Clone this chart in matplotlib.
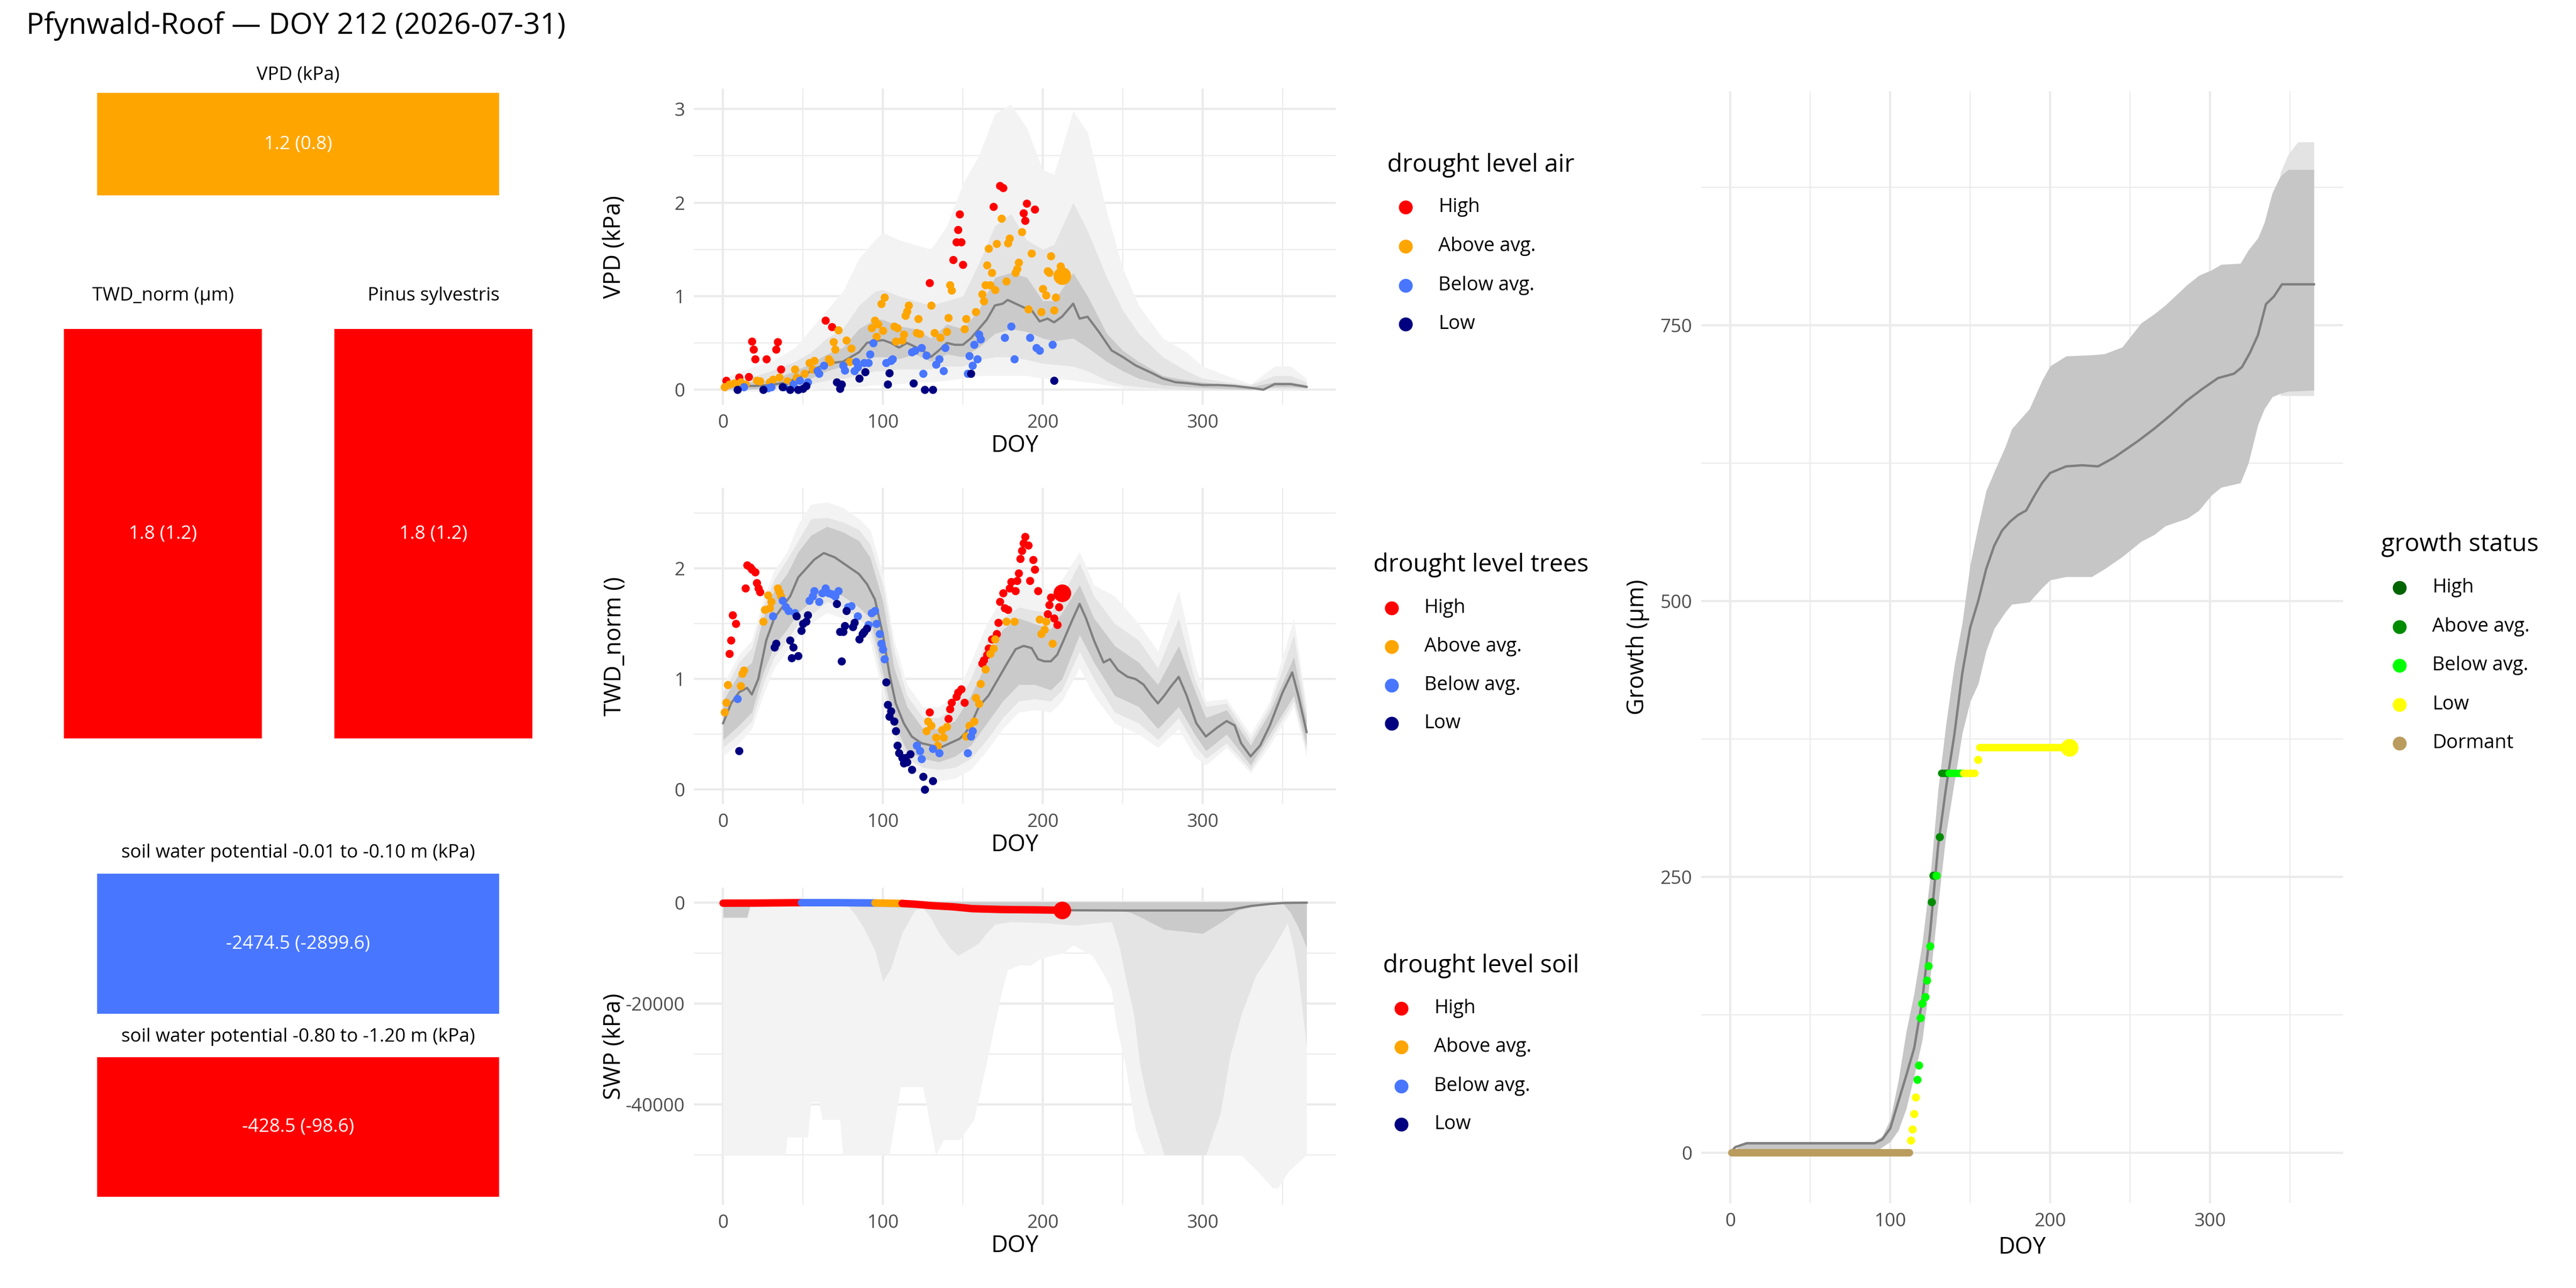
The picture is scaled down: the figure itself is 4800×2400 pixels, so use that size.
import numpy as np
import matplotlib.pyplot as plt
from matplotlib.lines import Line2D
from matplotlib.patches import Rectangle

plt.rcParams['font.family'] = ['Open Sans', 'DejaVu Sans']
plt.rcParams['axes.unicode_minus'] = False

W, H = 4800, 2400

# ---------------- data ----------------
title = 'Pfynwald-Roof \u2014 DOY 212 (2026-07-31)'
today = 212

level_names = ['High', 'Above avg.', 'Below avg.', 'Low']
level_colors = ['#FF0000', '#FFA500', '#4876FF', '#000080']
growth_names = ['High', 'Above avg.', 'Below avg.', 'Low', 'Dormant']
growth_colors = ['#006400', '#008B00', '#00FF00', '#FFFF00', '#BA9C5E']

# summary tiles (left column)
tile_titles = ['VPD (kPa)', 'TWD_norm (\u00b5m)', 'Pinus sylvestris',
               'soil water potential -0.01 to -0.10 m (kPa)',
               'soil water potential -0.80 to -1.20 m (kPa)']
tile_now = [1.2, 1.8, 1.8, -2474.5, -428.5]
tile_ref = [0.8, 1.2, 1.2, -2899.6, -98.6]
tile_level = ['Above avg.', 'High', 'High', 'Below avg.', 'High']

# VPD climatology (median + 3 quantile bands)
vpd_med_doy = [0, 10, 20, 30, 40, 50, 57, 65, 75, 85, 90, 95, 100, 105, 110, 115, 120, 125, 130, 135,
               140, 145, 150, 155, 160, 165, 170, 175, 178, 183, 188, 193, 198, 203, 207, 212, 219, 223, 228, 235,
               243, 250, 258, 268, 275, 283, 290, 300, 310, 320, 330, 338, 345, 355, 365]
vpd_med_val = [0.03, 0.04, 0.04, 0.05, 0.08, 0.15, 0.22, 0.28, 0.30, 0.40, 0.50, 0.52, 0.53, 0.50, 0.45, 0.50, 0.46, 0.42, 0.35, 0.42,
               0.50, 0.48, 0.48, 0.55, 0.65, 0.75, 0.90, 0.92, 0.96, 0.92, 0.88, 0.85, 0.73, 0.76, 0.72, 0.78, 0.92, 0.76, 0.78, 0.62,
               0.42, 0.35, 0.26, 0.18, 0.12, 0.08, 0.07, 0.05, 0.05, 0.04, 0.02, 0.00, 0.06, 0.06, 0.03]
vpd_band_doy = [0, 15, 30, 45, 55, 65, 75, 85, 95, 100, 110, 120, 130, 140, 150, 160, 170, 180, 190, 200,
                207, 219, 228, 240, 250, 260, 275, 290, 300, 315, 330, 345, 355, 365]
vpd_in_lo = [0.00, 0.00, 0.02, 0.08, 0.12, 0.20, 0.25, 0.30, 0.35, 0.35, 0.33, 0.38, 0.30, 0.38, 0.35, 0.45, 0.60, 0.65, 0.62, 0.55,
             0.52, 0.55, 0.45, 0.30, 0.20, 0.12, 0.05, 0.03, 0.02, 0.01, 0.00, 0.03, 0.03, 0.02]
vpd_in_hi = [0.06, 0.08, 0.10, 0.20, 0.28, 0.38, 0.45, 0.65, 0.75, 0.75, 0.68, 0.65, 0.55, 0.70, 0.65, 0.85, 1.20, 1.25, 1.20, 0.95,
             0.95, 1.25, 1.00, 0.60, 0.42, 0.30, 0.15, 0.10, 0.08, 0.05, 0.03, 0.08, 0.08, 0.05]
vpd_mid_lo = [0.00, 0.00, 0.00, 0.03, 0.06, 0.10, 0.12, 0.15, 0.20, 0.20, 0.22, 0.22, 0.22, 0.25, 0.25, 0.32, 0.35, 0.35, 0.32, 0.28,
              0.27, 0.25, 0.20, 0.10, 0.05, 0.03, 0.01, 0.00, 0.00, 0.00, 0.00, 0.01, 0.01, 0.00]
vpd_mid_hi = [0.08, 0.12, 0.20, 0.30, 0.40, 0.55, 0.65, 0.90, 1.05, 1.07, 1.00, 0.95, 0.90, 0.95, 1.00, 1.35, 1.75, 1.88, 1.60, 1.50,
              1.55, 2.00, 1.70, 1.20, 0.85, 0.60, 0.35, 0.20, 0.12, 0.08, 0.05, 0.15, 0.15, 0.08]
vpd_out_lo = [-0.02, -0.02, -0.02, 0.00, 0.00, 0.02, 0.02, 0.03, 0.05, 0.05, 0.06, 0.08, 0.08, 0.10, 0.12, 0.15, 0.15, 0.15, 0.15, 0.12,
              0.12, 0.10, 0.08, 0.05, 0.02, 0.01, 0.00, 0.00, 0.00, 0.00, 0.00, 0.00, 0.00, 0.00]
vpd_out_hi = [0.12, 0.22, 0.30, 0.45, 0.65, 0.85, 1.05, 1.40, 1.60, 1.68, 1.60, 1.55, 1.50, 1.75, 2.20, 2.50, 2.95, 3.05, 2.80, 2.35,
              2.30, 2.98, 2.75, 1.90, 1.30, 0.90, 0.55, 0.40, 0.25, 0.15, 0.06, 0.25, 0.25, 0.12]

# VPD observations this year, by drought level
vpd_high_doy = [2, 10, 16, 18, 19, 20, 27, 33, 34, 36, 64, 68, 129, 144, 146, 147, 148, 149, 150, 169, 173, 175, 188, 189, 190, 195]
vpd_high_val = [0.10, 0.13, 0.14, 0.52, 0.43, 0.33, 0.33, 0.43, 0.51, 0.22, 0.74, 0.67, 1.14, 1.39, 1.58, 1.71, 1.88, 1.58, 1.34,
                1.96, 2.18, 2.16, 1.89, 1.81, 1.99, 1.93]
vpd_above_doy = [1, 4, 7, 11, 14, 21, 23, 29, 31, 35, 40, 45, 46, 51, 54, 56, 57, 66, 67, 69,
                 70, 72, 77, 79, 80, 93, 95, 96, 97, 99, 100, 101, 107, 108, 109, 112, 113, 114, 115, 116,
                 121, 122, 123, 130, 132, 136, 140, 141, 142, 143, 151, 152, 158, 162, 163, 164, 165, 166, 167, 168,
                 170, 171, 174, 177, 178, 179, 183, 184, 185, 187, 191, 193, 199, 200, 202, 203, 204, 205, 207, 208, 211]
vpd_above_val = [0.03, 0.06, 0.07, 0.08, 0.06, 0.10, 0.09, 0.08, 0.11, 0.13, 0.09, 0.22, 0.13, 0.17, 0.29, 0.22, 0.31, 0.33, 0.30, 0.51,
                 0.43, 0.64, 0.53, 0.30, 0.44, 0.66, 0.74, 0.57, 0.70, 0.92, 0.63, 0.99, 0.68, 0.52, 0.66, 0.53, 0.59, 0.79, 0.84, 0.90,
                 0.61, 0.76, 0.60, 0.90, 0.61, 0.56, 0.62, 0.77, 1.12, 1.06, 0.65, 0.76, 0.83, 1.02, 0.95, 1.12, 1.33, 1.51, 1.12, 1.25,
                 1.07, 1.56, 1.83, 1.16, 1.57, 1.62, 1.25, 1.29, 1.36, 1.69, 0.86, 1.46, 0.83, 1.08, 1.01, 1.27, 1.25, 1.43, 0.85, 0.99, 1.32]
vpd_below_doy = [13, 28, 30, 38, 44, 48, 53, 59, 60, 63, 75, 76, 82, 83, 84, 88, 91, 92, 94, 102,
                 105, 106, 118, 120, 124, 125, 127, 133, 135, 138, 139, 153, 154, 156, 157, 159, 160, 161, 176, 180,
                 182, 192, 196, 198, 206]
vpd_below_val = [0.03, 0.02, 0.03, 0.03, 0.06, 0.10, 0.08, 0.20, 0.17, 0.26, 0.26, 0.21, 0.20, 0.30, 0.24, 0.29, 0.29, 0.38, 0.50, 0.29,
                 0.31, 0.33, 0.40, 0.42, 0.45, 0.17, 0.37, 0.27, 0.33, 0.20, 0.45, 0.17, 0.36, 0.26, 0.48, 0.33, 0.59, 0.54, 0.56, 0.68,
                 0.33, 0.56, 0.45, 0.42, 0.48]
vpd_low_doy = [9, 25, 37, 42, 47, 50, 52, 71, 73, 74, 85, 89, 103, 104, 119, 126, 131, 155, 207]
vpd_low_val = [0.00, 0.00, 0.03, 0.00, 0.00, 0.01, 0.04, 0.08, 0.01, 0.06, 0.12, 0.19, 0.06, 0.18, 0.07, 0.00, 0.00, 0.17, 0.10]
vpd_now = 1.22

# TWD_norm climatology
twd_med_doy = [0, 5, 10, 15, 18, 22, 27, 32, 37, 42, 47, 52, 57, 63, 70, 75, 80, 85, 90, 95,
               100, 104, 108, 113, 118, 124, 130, 136, 142, 148, 152, 156, 160, 166, 172, 178, 183, 188, 193, 197,
               201, 205, 209, 213, 218, 223, 227, 232, 238, 242, 247, 253, 258, 263, 268, 272, 276, 280, 285, 290,
               296, 302, 309, 315, 320, 324, 330, 336, 342, 350, 356, 360, 365]
twd_med_val = [0.60, 0.78, 0.88, 0.92, 0.86, 1.00, 1.35, 1.55, 1.65, 1.75, 1.92, 2.00, 2.08, 2.14, 2.10, 2.05, 2.00, 1.95, 1.86, 1.72,
               1.40, 1.05, 0.78, 0.60, 0.48, 0.42, 0.40, 0.38, 0.42, 0.46, 0.52, 0.62, 0.75, 0.85, 1.00, 1.15, 1.27, 1.30, 1.28, 1.18,
               1.16, 1.16, 1.22, 1.35, 1.52, 1.68, 1.55, 1.35, 1.15, 1.18, 1.08, 1.02, 1.00, 0.95, 0.85, 0.78, 0.85, 0.93, 1.02, 0.85,
               0.60, 0.48, 0.56, 0.62, 0.58, 0.42, 0.30, 0.40, 0.58, 0.88, 1.06, 0.84, 0.52]
twd_band_doy = [0, 10, 18, 25, 32, 40, 47, 55, 65, 75, 85, 92, 100, 107, 115, 125, 135, 145, 155, 165,
                175, 185, 195, 205, 212, 223, 232, 245, 260, 272, 285, 295, 302, 315, 330, 342, 357, 365]
twd_in_lo = [0.45, 0.58, 0.70, 1.05, 1.30, 1.45, 1.60, 1.70, 1.80, 1.75, 1.65, 1.55, 1.05, 0.60, 0.35, 0.28, 0.25, 0.30, 0.40, 0.60,
             0.80, 0.95, 0.95, 0.90, 1.00, 1.40, 1.15, 0.85, 0.75, 0.55, 0.75, 0.50, 0.35, 0.50, 0.22, 0.50, 0.85, 0.40]
twd_in_hi = [0.80, 1.05, 1.15, 1.55, 1.80, 1.95, 2.15, 2.30, 2.38, 2.33, 2.25, 2.10, 1.70, 1.10, 0.75, 0.55, 0.55, 0.62, 0.85, 1.15,
             1.45, 1.55, 1.50, 1.45, 1.60, 1.85, 1.55, 1.30, 1.15, 0.95, 1.30, 0.90, 0.65, 0.72, 0.40, 0.70, 1.20, 0.62]
twd_mid_lo = [0.38, 0.50, 0.62, 0.95, 1.20, 1.35, 1.50, 1.58, 1.70, 1.65, 1.55, 1.45, 0.95, 0.52, 0.28, 0.20, 0.18, 0.20, 0.28, 0.45,
              0.65, 0.80, 0.82, 0.80, 0.90, 1.25, 1.00, 0.70, 0.60, 0.45, 0.65, 0.40, 0.28, 0.42, 0.18, 0.45, 0.80, 0.35]
twd_mid_hi = [0.88, 1.15, 1.28, 1.65, 1.90, 2.08, 2.25, 2.45, 2.46, 2.42, 2.35, 2.22, 1.85, 1.25, 0.85, 0.65, 0.65, 0.75, 1.00, 1.35,
              1.55, 1.65, 1.62, 1.60, 1.75, 2.05, 1.75, 1.50, 1.35, 1.10, 1.55, 1.00, 0.75, 0.78, 0.45, 0.75, 1.40, 0.68]
twd_out_lo = [0.30, 0.42, 0.55, 0.85, 1.10, 1.25, 1.40, 1.50, 1.60, 1.55, 1.45, 1.35, 0.85, 0.45, 0.22, 0.12, 0.08, 0.10, 0.18, 0.35,
              0.55, 0.70, 0.72, 0.70, 0.80, 1.10, 0.85, 0.60, 0.50, 0.38, 0.55, 0.30, 0.22, 0.38, 0.15, 0.40, 0.75, 0.30]
twd_out_hi = [0.95, 1.22, 1.35, 1.72, 1.98, 2.15, 2.40, 2.58, 2.60, 2.55, 2.45, 2.35, 1.95, 1.35, 0.95, 0.75, 0.75, 0.85, 1.15, 1.50,
              1.75, 1.90, 1.85, 1.80, 1.90, 2.15, 1.85, 1.75, 1.50, 1.25, 1.80, 1.15, 0.80, 0.82, 0.50, 0.80, 1.55, 0.75]

# TWD_norm observations this year
twd_high_doy = [4, 5, 6, 8, 14, 15, 17, 18, 20, 21, 22, 23, 129, 141, 142, 143, 146, 147, 149, 151,
                162, 163, 165, 166, 168, 171, 172, 173, 175, 176, 178, 179, 180, 183, 184, 185, 186, 187, 188, 189,
                191, 192, 194, 195, 197, 203, 204, 205, 207, 209, 210]
twd_high_val = [1.23, 1.35, 1.58, 1.50, 1.82, 2.03, 2.01, 1.99, 1.97, 1.87, 1.82, 1.79, 0.70, 0.64, 0.73, 0.79, 0.84, 0.88, 0.91, 0.79,
                1.14, 1.17, 1.22, 1.28, 1.36, 1.41, 1.51, 1.70, 1.78, 1.64, 1.63, 1.82, 1.88, 1.80, 1.89, 1.96, 2.09, 2.16, 2.23, 2.29,
                2.21, 1.89, 2.08, 1.99, 1.80, 1.59, 1.67, 1.74, 1.55, 1.49, 1.65]
twd_above_doy = [1, 2, 3, 11, 12, 13, 25, 26, 28, 29, 30, 34, 35, 36, 127, 128, 130, 133, 134, 137,
                 138, 140, 152, 154, 157, 158, 160, 161, 164, 167, 169, 170, 177, 182, 198, 199, 201, 202, 206]
twd_above_val = [0.70, 0.79, 0.95, 0.94, 1.05, 1.08, 1.52, 1.63, 1.76, 1.64, 1.70, 1.82, 1.79, 1.75, 0.53, 0.62, 0.58, 0.47, 0.40, 0.54,
                 0.47, 0.57, 0.48, 0.58, 0.62, 0.83, 0.78, 0.96, 1.09, 1.23, 1.28, 1.36, 1.52, 1.52, 1.54, 1.41, 1.45, 1.52, 1.32]
twd_below_doy = [9, 31, 37, 39, 41, 45, 54, 56, 57, 60, 62, 64, 66, 68, 70, 72, 78, 80, 84, 91,
                 93, 95, 96, 98, 99, 100, 101, 121, 123, 124, 131, 135, 153, 155, 156]
twd_below_val = [0.82, 1.57, 1.71, 1.65, 1.62, 1.60, 1.71, 1.75, 1.80, 1.70, 1.78, 1.82, 1.78, 1.77, 1.75, 1.80, 1.65, 1.66, 1.57, 1.49,
                 1.60, 1.62, 1.50, 1.41, 1.32, 1.27, 1.18, 0.40, 0.35, 0.28, 0.37, 0.33, 0.33, 0.48, 0.53]
twd_low_doy = [10, 32, 33, 42, 43, 44, 46, 47, 49, 50, 52, 53, 71, 73, 74, 75, 76, 77, 81, 82,
               85, 87, 88, 90, 102, 103, 104, 105, 107, 108, 109, 110, 112, 113, 114, 115, 117, 118, 125, 126, 131]
twd_low_val = [0.35, 1.29, 1.32, 1.35, 1.19, 1.29, 1.57, 1.21, 1.44, 1.50, 1.52, 1.58, 1.68, 1.43, 1.16, 1.43, 1.48, 1.62, 1.47, 1.51,
               1.36, 1.41, 1.43, 1.46, 0.97, 0.77, 0.66, 0.71, 0.62, 0.53, 0.40, 0.33, 0.29, 0.24, 0.29, 0.25, 0.32, 0.18, 0.12, 0.00, 0.08]
twd_now = 1.78

# soil water potential climatology
swp_med_doy = [0, 50, 100, 130, 160, 200, 212, 250, 312, 318, 330, 342, 351, 365]
swp_med_val = [-100, 0, -100, -500, -1200, -1450, -1500, -1550, -1550, -1350, -670, -250, -50, 0]
swp_out_doy = [0, 39, 40, 53, 55, 60, 62, 73, 75, 104, 111, 125, 133, 138, 148, 157, 166, 174, 178, 186,
               192, 198, 205, 213, 219, 231, 237, 243, 246, 252, 258, 264, 324, 336, 344, 347, 354, 365]
swp_out_lo = [-50000, -50000, -46500, -46500, -39500, -39500, -43000, -43000, -50000, -50000, -36500, -36500, -50000, -47000,
              -47000, -43000, -30000, -18200, -13300, -12300, -12500, -11200, -10500, -10000, -8400, -10500, -13600, -17200,
              -24400, -32600, -45000, -50000, -50000, -53800, -56600, -56600, -53200, -50000]
swp_out_top = 450
swp_mid_doy = [0, 15, 17, 30, 78, 83, 88, 95, 100, 105, 112, 120, 125, 130, 135, 142, 147, 155, 160, 165,
               170, 180, 200, 220, 235, 243, 248, 252, 257, 261, 266, 276, 302, 311, 317, 324, 333, 341, 350, 353,
               357, 360, 365]
swp_mid_lo = [-3000, -3000, -800, -500, -500, -2500, -5000, -9500, -15600, -13000, -6000, -1500, -1000, -3000, -6000, -9000,
              -10500, -9000, -8000, -6000, -4300, -3800, -4000, -4500, -4000, -3800, -8900, -15100, -22300, -32600, -39800,
              -50000, -50000, -41900, -30600, -22300, -14600, -10700, -5800, -4000, -9000, -15000, -28500]
swp_mid_top = 300
swp_in_doy = [0, 15, 17, 212, 250, 255, 262, 276, 300, 312, 322, 335, 350, 355, 360, 365]
swp_in_lo = [-2900, -2900, -300, -1600, -1650, -1960, -3000, -5300, -6100, -3800, -1500, -500, -100, -2000, -5000, -8900]
swp_in_top = 150

# soil water potential this year, coloured by drought level
swp_obs_doy = [0, 20, 49, 70, 95, 112, 120, 130, 144, 156, 174, 200, 212]
swp_obs_val = [-100, -80, 0, 0, -50, -150, -300, -570, -825, -1190, -1350, -1440, -1500]
swp_seg_start = [0, 49, 95, 112]
swp_seg_end = [49, 95, 112, 212]
swp_seg_level = ['High', 'Below avg.', 'Above avg.', 'High']
swp_now = -1500

# growth climatology
gro_band_doy = [0, 10, 90, 95, 100, 105, 110, 115, 120, 125, 130, 135, 140, 145, 150, 155, 160, 165, 172, 176,
                187, 195, 200, 210, 226, 234, 245, 257, 265, 272, 286, 293, 301, 307, 319, 324, 330, 334, 339, 344,
                349, 365]
gro_in_hi = [0, 10, 10, 15, 30, 65, 110, 145, 190, 250, 330, 390, 441, 480, 533, 568, 600, 617, 640, 656,
             674, 700, 713, 722, 723, 724, 730, 752, 760, 768, 787, 795, 800, 805, 806, 818, 829, 843, 870, 885,
             891, 891]
gro_in_lo = [0, 0, 0, 5, 10, 20, 40, 70, 102, 159, 226, 290, 335, 380, 409, 425, 455, 475, 490, 497,
             499, 512, 519, 522, 522, 529, 540, 554, 560, 568, 575, 582, 596, 603, 607, 625, 660, 674, 685, 688,
             690, 691]
gro_out_doy = [344, 349, 355, 365]
gro_out_hi = [888, 905, 916, 916]
gro_out_lo = [686, 686, 686, 686]
gro_med_doy = [0, 3, 10, 90, 95, 100, 105, 110, 115, 120, 125, 130, 135, 140, 145, 150, 155, 160, 165, 170,
               175, 180, 185, 190, 195, 200, 210, 220, 230, 240, 245, 255, 265, 275, 285, 295, 305, 315, 320, 325,
               330, 335, 340, 345, 365]
gro_med_val = [0, 5, 8.5, 8.5, 12, 22, 46, 70, 95, 138, 201, 279, 332, 378, 434, 476, 500, 529, 550, 564,
               572, 578, 582, 595, 607, 616, 622, 623, 622, 630, 635, 645, 656, 668, 681, 692, 702, 706, 712, 725,
               741, 769, 776, 787, 787]

# growth this year: single days and runs of equal value
gro_pt_doy = [113, 114, 115, 116, 117, 118, 119, 120, 122, 123, 124, 125, 126, 127, 129, 131, 155]
gro_pt_val = [11, 21, 35, 50, 66, 79, 122, 135, 141, 156, 169, 187, 227, 251, 251, 286, 356]
gro_pt_status = ['Low', 'Low', 'Low', 'Low', 'Below avg.', 'Below avg.', 'Below avg.', 'Below avg.', 'Below avg.',
                 'Below avg.', 'Below avg.', 'Below avg.', 'Above avg.', 'Above avg.', 'Below avg.', 'Above avg.', 'Low']
gro_run_start = [1, 132, 137, 146, 156]
gro_run_end = [112, 137, 146, 153, 212]
gro_run_val = [0, 344, 344, 344, 367]
gro_run_status = ['Dormant', 'Above avg.', 'Below avg.', 'Low', 'Low']
gro_now = 367
gro_now_status = 'Low'

# ---------------- drawing ----------------
lvl_col = dict(zip(level_names, level_colors))
gro_col = dict(zip(growth_names, growth_colors))

C_OUT, C_MID, C_IN = '#F3F3F3', '#E4E4E4', '#CACACA'
C_MED = '#7F7F7F'
PT = 30
BIG = 140


def box(x0, y0, x1, y1):
    return [x0 / W, 1 - y1 / H, (x1 - x0) / W, (y1 - y0) / H]


def style(ax, ylim, yticks, yminor):
    ax.set_xlim(-18.25, 383.25)
    ax.set_ylim(*ylim)
    ax.set_xticks([0, 100, 200, 300])
    ax.set_xticks([50, 150, 250, 350], minor=True)
    ax.set_yticks(yticks)
    ax.set_yticks(yminor, minor=True)
    ax.grid(which='major', color='#EBEBEB', lw=1.5)
    ax.grid(which='minor', color='#EBEBEB', lw=0.75)
    ax.set_axisbelow(True)
    for s in ax.spines.values():
        s.set_visible(False)
    ax.tick_params(which='both', length=0, labelsize=12.5, labelcolor='#4D4D4D', pad=6)


def legend(x0, yt, ttl, names, cols, rows):
    fig.text(x0 / W, 1 - yt / H, ttl, fontsize=16.5, va='center', ha='left')
    for nm, c, yy in zip(names, cols, rows):
        fig.add_artist(Line2D([(x0 + 34) / W], [1 - yy / H], marker='o', ms=8.3, color=c, lw=0,
                              transform=fig.transFigure))
        fig.text((x0 + 95) / W, 1 - yy / H, nm, fontsize=13, va='center', ha='left')


def axis_titles(xc, yc_x, yl_x, yl_y, ylab):
    fig.text(xc / W, 1 - yc_x / H, 'DOY', fontsize=15.5, ha='center', va='center')
    fig.text(yl_x / W, 1 - yl_y / H, ylab, fontsize=15.5, ha='center', va='center', rotation=90)


fig = plt.figure(figsize=(24, 12), dpi=200)
fig.text(49 / W, 1 - 63 / H, title, fontsize=19.7, va='baseline', ha='left')

# tiles
tile_boxes = [(181, 173, 930, 364), (119, 613, 488, 1376), (623, 613, 992, 1376),
              (181, 1628, 930, 1889), (181, 1970, 930, 2230)]
tile_title_y = [139, 551, 551, 1589, 1932]
for i in range(5):
    x0, y0, x1, y1 = tile_boxes[i]
    axt = fig.add_axes(box(x0, y0, x1, y1))
    axt.set_axis_off()
    axt.add_patch(Rectangle((0, 0), 1, 1, transform=axt.transAxes, color=lvl_col[tile_level[i]], lw=0))
    axt.text(0.5, 0.5, '{:.1f} ({:.1f})'.format(tile_now[i], tile_ref[i]), color='white', fontsize=12.5,
             ha='center', va='center', transform=axt.transAxes)
    fig.text((x0 + x1) / 2 / W, 1 - tile_title_y[i] / H, tile_titles[i], fontsize=12.5, ha='center', va='center')

# VPD panel
ax1 = fig.add_axes(box(1293, 165, 2489, 754))
ax1.fill_between(vpd_band_doy, vpd_out_lo, vpd_out_hi, color=C_OUT, lw=0)
ax1.fill_between(vpd_band_doy, vpd_mid_lo, vpd_mid_hi, color=C_MID, lw=0)
ax1.fill_between(vpd_band_doy, vpd_in_lo, vpd_in_hi, color=C_IN, lw=0)
ax1.plot(vpd_med_doy, vpd_med_val, color=C_MED, lw=1.5)
for d, v, lv in [(vpd_high_doy, vpd_high_val, 'High'), (vpd_above_doy, vpd_above_val, 'Above avg.'),
                 (vpd_below_doy, vpd_below_val, 'Below avg.'), (vpd_low_doy, vpd_low_val, 'Low')]:
    ax1.scatter(d, v, s=PT, color=lvl_col[lv], lw=0, zorder=3)
ax1.scatter([today], [vpd_now], s=BIG, color=lvl_col['Above avg.'], lw=0, zorder=4)
style(ax1, (-0.16, 3.22), [0, 1, 2, 3], [0.5, 1.5, 2.5])
axis_titles(1891, 831, 1145, 460, 'VPD (kPa)')
legend(2585, 308, 'drought level air', level_names, level_colors, [386, 459, 532, 604])

# TWD panel
ax2 = fig.add_axes(box(1293, 909, 2489, 1498))
ax2.fill_between(twd_band_doy, twd_out_lo, twd_out_hi, color=C_OUT, lw=0)
ax2.fill_between(twd_band_doy, twd_mid_lo, twd_mid_hi, color=C_MID, lw=0)
ax2.fill_between(twd_band_doy, twd_in_lo, twd_in_hi, color=C_IN, lw=0)
ax2.plot(twd_med_doy, twd_med_val, color=C_MED, lw=1.5)
for d, v, lv in [(twd_high_doy, twd_high_val, 'High'), (twd_above_doy, twd_above_val, 'Above avg.'),
                 (twd_below_doy, twd_below_val, 'Below avg.'), (twd_low_doy, twd_low_val, 'Low')]:
    ax2.scatter(d, v, s=PT, color=lvl_col[lv], lw=0, zorder=3)
ax2.scatter([today], [twd_now], s=BIG, color=lvl_col['High'], lw=0, zorder=4)
style(ax2, (-0.13, 2.73), [0, 1, 2], [0.5, 1.5, 2.5])
axis_titles(1891, 1575, 1145, 1204, 'TWD_norm ()')
legend(2559, 1053, 'drought level trees', level_names, level_colors, [1133, 1205, 1277, 1348])

# SWP panel
ax3 = fig.add_axes(box(1293, 1654, 2489, 2245))
ax3.fill_between(swp_out_doy, swp_out_lo, swp_out_top, color=C_OUT, lw=0)
ax3.fill_between(swp_mid_doy, swp_mid_lo, swp_mid_top, color=C_MID, lw=0)
ax3.fill_between(swp_in_doy, swp_in_lo, swp_in_top, color=C_IN, lw=0)
ax3.plot(swp_med_doy, swp_med_val, color=C_MED, lw=1.5)
obs_d = np.array(swp_obs_doy)
obs_v = np.array(swp_obs_val)
for s0, s1, lv in zip(swp_seg_start, swp_seg_end, swp_seg_level):
    m = (obs_d >= s0) & (obs_d <= s1)
    ax3.plot(obs_d[m], obs_v[m], color=lvl_col[lv], lw=5, solid_capstyle='round', zorder=3)
ax3.scatter([today], [swp_now], s=BIG, color=lvl_col['High'], lw=0, zorder=4)
style(ax3, (-59900, 2980), [0, -20000, -40000], [-10000, -30000, -50000])
axis_titles(1891, 2322, 1145, 1950, 'SWP (kPa)')
legend(2577, 1800, 'drought level soil', level_names, level_colors, [1879, 1951, 2024, 2095])

# growth panel
ax4 = fig.add_axes(box(3170, 170, 4366, 2242))
ax4.fill_between(gro_out_doy, gro_out_lo, gro_out_hi, color='#E3E3E3', lw=0)
ax4.fill_between(gro_band_doy, gro_in_lo, gro_in_hi, color='#C6C6C6', lw=0)
ax4.plot(gro_med_doy, gro_med_val, color=C_MED, lw=1.6)
for s0, s1, v, st in zip(gro_run_start, gro_run_end, gro_run_val, gro_run_status):
    ax4.plot([s0, s1], [v, v], color=gro_col[st], lw=5, solid_capstyle='round', zorder=3)
ax4.scatter(gro_pt_doy, gro_pt_val, s=PT, c=[gro_col[s] for s in gro_pt_status], lw=0, zorder=3)
ax4.scatter([today], [gro_now], s=BIG, color=gro_col[gro_now_status], lw=0, zorder=4)
style(ax4, (-45.8, 962), [0, 250, 500, 750], [125, 375, 625, 875])
axis_titles(3768, 2325, 3052, 1206, 'Growth (\u00b5m)')
legend(4437, 1015, 'growth status', growth_names, growth_colors, [1095, 1168, 1240, 1313, 1385])

fig.savefig('out.png', dpi=200, facecolor='white')
